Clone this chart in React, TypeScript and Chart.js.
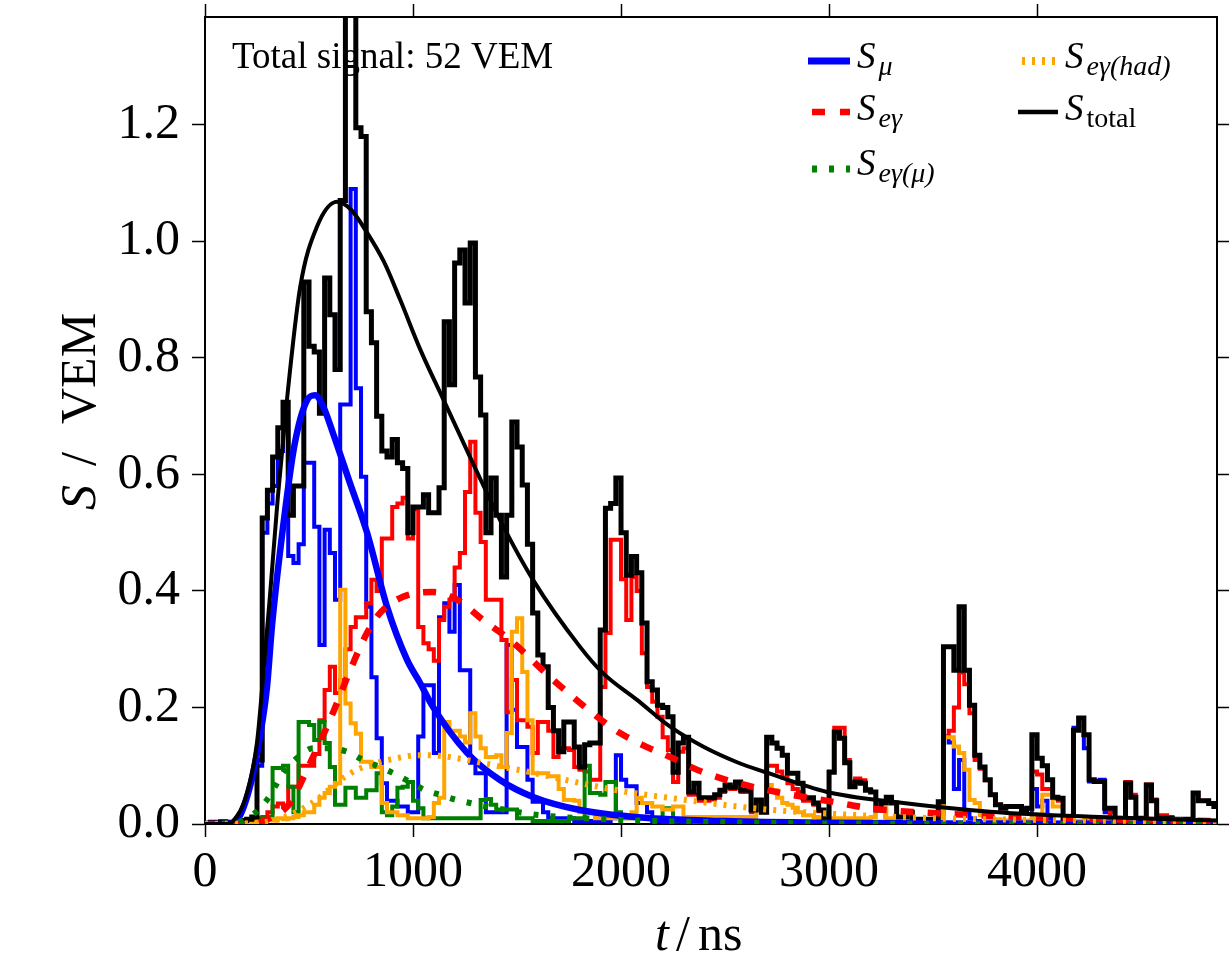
import React, { useEffect, useRef } from "react";
import { Chart, registerables } from "chart.js";

Chart.register(...registerables);

const W = 1229;
const H = 962;

// ---- axes ----
const BIN_WIDTH = 25; // ns per histogram bin
const T_MAX = 4865;
const S_MAX = 1.385;
const X_TICKS = [0, 1000, 2000, 3000, 4000];
const Y_TICKS = [0, 0.2, 0.4, 0.6, 0.8, 1.0, 1.2];
const ANNOTATION = "Total signal: 52 VEM";

// ---- histograms (one value per 25 ns bin, starting at t = 0) ----
const totalHist = [
  0, 0.003, 0.002, 0.004, 0.002, 0.003, 0.005, 0.006, 0.008, 0.012,
  0.11, 0.525, 0.573, 0.63, 0.68, 0.724, 0.53, 0.58, 0.58, 0.93,
  0.82, 0.81, 0.705, 0.937, 0.874, 0.78, 1.07, 1.7, 1.6, 1.195,
  1.18, 0.879, 0.826, 0.7, 0.64, 0.63, 0.66, 0.62, 0.61, 0.5,
  0.544, 0.544, 0.565, 0.534, 0.534, 0.577, 0.862, 0.754, 0.963, 0.985,
  0.894, 0.997, 0.767, 0.702, 0.5, 0.594, 0.53, 0.424, 0.53, 0.69,
  0.647, 0.582, 0.48, 0.362, 0.29, 0.27, 0.2, 0.16, 0.124, 0.175,
  0.175, 0.132, 0.098, 0.136, 0.139, 0.139, 0.333, 0.542, 0.55, 0.594,
  0.5, 0.427, 0.459, 0.431, 0.345, 0.244, 0.23, 0.204, 0.2, 0.184,
  0.089, 0.139, 0.149, 0.055, 0.07, 0.045, 0.045, 0.045, 0.05, 0.058,
  0.067, 0.063, 0.072, 0.058, 0.058, 0.024, 0.041, 0.02, 0.149, 0.139,
  0.13, 0.118, 0.087, 0.087, 0.07, 0.045, 0.045, 0.036, 0.024, 0.007,
  0.089, 0.158, 0.147, 0.105, 0.064, 0.072, 0.07, 0.058, 0.055, 0.024,
  0.036, 0.046, 0.036, 0.012, 0.012, 0.02, 0.008, 0.008, 0.006, 0.008,
  0.005, 0.038, 0.304, 0.304, 0.264, 0.373, 0.264, 0.204, 0.118, 0.098,
  0.076, 0.05, 0.033, 0.027, 0.03, 0.03, 0.03, 0.025, 0.027, 0.153,
  0.113, 0.1, 0.076, 0.046, 0.044, 0.003, 0.003, 0.161, 0.182, 0.153,
  0.076, 0.073, 0.073, 0.027, 0.027, 0.005, 0.005, 0.07, 0.046, 0.01,
  0.008, 0.067, 0.04, 0.008, 0.01, 0.01, 0.008, 0.003, 0.008, 0.008,
  0.053, 0.04, 0.04, 0.035, 0.03,
];

const emHist = [
  0, 0.003, 0.002, 0.004, 0.002, 0.003, 0.004, 0.005, 0.006, 0.008,
  0.01, 0.012, 0.02, 0.03, 0.035, 0.03, 0.064, 0.064, 0.1, 0.1,
  0.1, 0.12, 0.178, 0.23, 0.27, 0.225, 0.247, 0.3, 0.338, 0.355,
  0.355, 0.379, 0.419, 0.4, 0.49, 0.49, 0.544, 0.55, 0.56, 0.49,
  0.54, 0.338, 0.31, 0.3, 0.28, 0.35, 0.373, 0.385, 0.44, 0.465,
  0.57, 0.656, 0.534, 0.484, 0.385, 0.385, 0.385, 0.316, 0.192, 0.247,
  0.178, 0.178, 0.167, 0.122, 0.175, 0.175, 0.16, 0.115, 0.13, 0.13,
  0.127, 0.098, 0.093, 0.09, 0.076, 0.076, 0.235, 0.328, 0.488, 0.488,
  0.42, 0.35, 0.424, 0.4, 0.293, 0.235, 0.21, 0.184, 0.149, 0.127,
  0.072, 0.124, 0.13, 0.05, 0.05, 0.04, 0.04, 0.042, 0.045, 0.055,
  0.063, 0.06, 0.07, 0.055, 0.055, 0.02, 0.038, 0.02, 0.1, 0.1,
  0.09, 0.08, 0.07, 0.06, 0.055, 0.04, 0.04, 0.033, 0.022, 0.006,
  0.09, 0.165, 0.165, 0.11, 0.07, 0.078, 0.075, 0.06, 0.055, 0.024,
  0.036, 0.045, 0.036, 0.012, 0.012, 0.02, 0.008, 0.008, 0.006, 0.008,
  0.005, 0.035, 0.15, 0.16, 0.2, 0.26, 0.24, 0.19, 0.11, 0.095,
  0.075, 0.05, 0.033, 0.027, 0.03, 0.03, 0.03, 0.025, 0.027, 0.09,
  0.085, 0.06, 0.06, 0.045, 0.04, 0.003, 0.003, 0.005, 0.005, 0.005,
  0.005, 0.005, 0.01, 0.01, 0.02, 0.005, 0.005, 0.072, 0.05, 0.01,
  0.008, 0.068, 0.042, 0.015, 0.015, 0.012, 0.008, 0.003, 0.008, 0.008,
  0.053, 0.04, 0.04, 0.035, 0.03,
];

const muHist = [
  0, 0, 0, 0, 0, 0, 0, 0, 0.002, 0.004,
  0.1, 0.5, 0.55, 0.58, 0.64, 0.69, 0.46, 0.448, 0.48, 0.62,
  0.62, 0.51, 0.307, 0.505, 0.465, 0.385, 0.72, 0.72, 1.09, 0.748,
  0.596, 0.373, 0.252, 0.147, 0.07, 0.04, 0.04, 0.03, 0.03, 0.02,
  0.02, 0.15, 0.238, 0.238, 0.122, 0.355, 0.379, 0.33, 0.41, 0.264,
  0.264, 0.105, 0.087, 0.087, 0.02, 0.02, 0.02, 0.02, 0.307, 0.196,
  0.132, 0.132, 0.076, 0.038, 0.038, 0.02, 0.01, 0.01, 0.01, 0.01,
  0.01, 0.005, 0.005, 0.005, 0.005, 0.005, 0.005, 0.005, 0.01, 0.118,
  0.076, 0.065, 0.065, 0.036, 0.036, 0.02, 0.005, 0.005, 0, 0,
  0, 0, 0, 0, 0, 0, 0, 0, 0, 0,
  0, 0, 0, 0, 0, 0, 0, 0, 0, 0,
  0, 0, 0, 0, 0, 0, 0, 0, 0, 0,
  0, 0, 0, 0, 0, 0, 0, 0, 0, 0,
  0, 0, 0, 0, 0, 0, 0, 0, 0, 0,
  0, 0, 0.15, 0.14, 0.06, 0.11, 0.02, 0.01, 0.005, 0,
  0, 0, 0, 0, 0, 0, 0, 0, 0, 0.06,
  0.03, 0.04, 0.01, 0, 0, 0, 0, 0.165, 0.182, 0.13,
  0.073, 0.073, 0.076, 0.02, 0.005, 0, 0, 0, 0, 0,
  0, 0, 0, 0, 0, 0, 0, 0, 0, 0,
  0, 0, 0, 0, 0,
];

const emMuHist = [
  0, 0, 0, 0, 0, 0.002, 0, 0.003, 0.004, 0.005,
  0.01, 0.01, 0.012, 0.096, 0.096, 0.1, 0.064, 0.02, 0.175, 0.175,
  0.17, 0.144, 0.175, 0.139, 0.098, 0.033, 0.033, 0.062, 0.062, 0.045,
  0.045, 0.058, 0.058, 0.087, 0.02, 0.015, 0.03, 0.062, 0.064, 0.072,
  0.04, 0.027, 0.01, 0.01, 0.01, 0.01, 0.01, 0.01, 0.01, 0.01,
  0.01, 0.01, 0.01, 0.041, 0.043, 0.033, 0.025, 0.025, 0.025, 0.025,
  0.01, 0.01, 0.01, 0.005, 0.005, 0.005, 0.005, 0.005, 0.005, 0.005,
  0.01, 0.01, 0.01, 0.1, 0.053, 0.053, 0.05, 0.072, 0.072, 0.02,
  0.01, 0.01, 0.01, 0.01, 0.01, 0.01, 0.01, 0.01, 0.027, 0.027,
  0.005, 0.005, 0.005, 0.005, 0.003, 0.003, 0.003, 0.003, 0.003, 0.003,
  0.002, 0.002, 0.002, 0.002, 0.002, 0.002, 0.002, 0.002, 0.002, 0.002,
  0.002, 0.002, 0.002, 0.002, 0.002, 0.002, 0.002, 0.002, 0.002, 0.002,
  0, 0, 0, 0, 0, 0, 0, 0, 0, 0,
  0, 0, 0, 0, 0, 0, 0, 0, 0, 0,
  0, 0, 0, 0, 0, 0, 0, 0, 0, 0,
  0, 0, 0, 0, 0, 0, 0, 0, 0, 0,
  0, 0, 0, 0, 0, 0, 0, 0, 0, 0,
  0, 0, 0, 0, 0, 0, 0, 0, 0, 0,
  0, 0, 0, 0, 0, 0, 0, 0, 0, 0,
  0, 0, 0, 0, 0,
];

const emHadHist = [
  0, 0, 0, 0.002, 0, 0, 0.003, 0.002, 0.002, 0.003,
  0.004, 0.005, 0.008, 0.006, 0.01, 0.008, 0.01, 0.012, 0.015, 0.02,
  0.02, 0.033, 0.045, 0.053, 0.064, 0.07, 0.402, 0.207, 0.173, 0.155,
  0.107, 0.107, 0.098, 0.098, 0.036, 0.02, 0.02, 0.015, 0.015, 0.01,
  0.01, 0.01, 0.01, 0.012, 0.036, 0.045, 0.175, 0.16, 0.16, 0.15,
  0.14, 0.19, 0.15, 0.13, 0.115, 0.115, 0.118, 0.098, 0.156, 0.33,
  0.353, 0.261, 0.178, 0.087, 0.087, 0.087, 0.082, 0.082, 0.06, 0.041,
  0.041, 0.04, 0.02, 0.02, 0.02, 0.01, 0.01, 0.01, 0.01, 0.01,
  0.01, 0.01, 0.02, 0.045, 0.036, 0.036, 0.03, 0.03, 0.025, 0.025,
  0.03, 0.03, 0.012, 0.012, 0.012, 0.012, 0.012, 0.012, 0.012, 0.012,
  0.012, 0.012, 0.012, 0.012, 0.012, 0.012, 0.041, 0.036, 0.067, 0.058,
  0.045, 0.036, 0.033, 0.028, 0.02, 0.015, 0.015, 0.012, 0.01, 0.005,
  0.01, 0.01, 0.01, 0.01, 0.01, 0.01, 0.01, 0.01, 0.012, 0.027,
  0.027, 0.01, 0.01, 0.008, 0.008, 0.008, 0.006, 0.006, 0.006, 0.006,
  0.005, 0.01, 0.149, 0.149, 0.133, 0.122, 0.093, 0.041, 0.036, 0.015,
  0.01, 0.008, 0.008, 0.006, 0.006, 0.006, 0.006, 0.006, 0.006, 0.01,
  0.01, 0.05, 0.05, 0.03, 0.03, 0.003, 0.003, 0.005, 0.005, 0.012,
  0.005, 0.003, 0.003, 0.003, 0.003, 0.003, 0.003, 0.003, 0.003, 0.003,
  0.003, 0.003, 0.003, 0.003, 0.003, 0.003, 0.003, 0.003, 0.003, 0.003,
  0.003, 0.003, 0.003, 0.003, 0.003,
];

const muFitT = [0, 100, 150, 216, 264, 298, 322, 375, 430, 490, 529, 570, 615, 697, 779, 875, 971, 1034, 1096, 1260, 1418, 1577, 1803, 2100, 2500, 3000, 3500, 4865];
const muFitS = [0, 0, 0.005, 0.064, 0.15, 0.235, 0.34, 0.509, 0.65, 0.727, 0.736, 0.715, 0.671, 0.585, 0.5, 0.373, 0.282, 0.242, 0.201, 0.122, 0.0755, 0.0464, 0.024, 0.011, 0.005, 0.002, 0.001, 0];

const emFitT = [0, 200, 300, 409, 490, 601, 712, 779, 841, 952, 1096, 1212, 1337, 1466, 1659, 1769, 1885, 1995, 2125, 2236, 2394, 2654, 3053, 3197, 3600, 4000, 4500, 4865];
const emFitS = [0, 0, 0.008, 0.036, 0.093, 0.179, 0.276, 0.328, 0.362, 0.39, 0.398, 0.385, 0.35, 0.316, 0.252, 0.218, 0.184, 0.156, 0.132, 0.115, 0.089, 0.062, 0.036, 0.027, 0.017, 0.011, 0.007, 0.005];

const emMuFitT = [0, 150, 200, 250, 303, 380, 442, 519, 600, 683, 760, 889, 986, 1058, 1130, 1212, 1288, 1529, 1611, 2000, 2500, 3000, 4865];
const emMuFitS = [0, 0.002, 0.01, 0.022, 0.044, 0.09, 0.113, 0.13, 0.13, 0.124, 0.11, 0.09, 0.072, 0.058, 0.05, 0.041, 0.035, 0.019, 0.015, 0.007, 0.003, 0.001, 0];

const emHadFitT = [0, 250, 350, 457, 553, 649, 731, 827, 923, 1019, 1130, 1226, 1385, 1562, 1740, 2029, 2317, 2587, 2731, 3149, 3500, 4000, 4865];
const emHadFitS = [0, 0.002, 0.008, 0.024, 0.046, 0.075, 0.093, 0.105, 0.113, 0.118, 0.117, 0.112, 0.101, 0.089, 0.075, 0.055, 0.041, 0.029, 0.024, 0.015, 0.01, 0.007, 0.004];

const totFitT = [0, 100, 135, 202, 250, 288, 312, 350, 394, 457, 538, 635, 700, 779, 860, 938, 1034, 1144, 1300, 1418, 1577, 1803, 1913, 2077, 2236, 2394, 2558, 2702, 2990, 3308, 3774, 4300, 4865];
const totFitS = [0, 0, 0.005, 0.053, 0.14, 0.29, 0.39, 0.56, 0.728, 0.92, 1.025, 1.068, 1.055, 1.015, 0.965, 0.9, 0.815, 0.73, 0.61, 0.522, 0.419, 0.304, 0.259, 0.213, 0.167, 0.133, 0.106, 0.088, 0.055, 0.038, 0.021, 0.012, 0.006];

// ---- colours / styles ----
const BLUE = "#0000ff";
const RED = "#ff0000";
const GREEN = "#008000";
const ORANGE = "#ffa500";
const BLACK = "#000000";
const SERIF = '"Liberation Serif", "Times New Roman", serif';

const LEGEND = [
  { sub: "μ", italicSub: true, color: BLUE, dash: [] as number[], width: 7, col: 0, row: 0 },
  { sub: "eγ", italicSub: true, color: RED, dash: [13, 15], width: 6.5, col: 0, row: 1 },
  { sub: "eγ(μ)", italicSub: true, color: GREEN, dash: [5, 12], width: 7, col: 0, row: 2 },
  { sub: "eγ(had)", italicSub: true, color: ORANGE, dash: [3, 7], width: 8, col: 1, row: 0 },
  { sub: "total", italicSub: false, color: BLACK, dash: [] as number[], width: 4.5, col: 1, row: 1 },
];

function stepPoints(vals: number[]) {
  const pts = vals.map((v, i) => ({ x: i * BIN_WIDTH, y: v }));
  pts.push({ x: vals.length * BIN_WIDTH, y: vals[vals.length - 1] });
  return pts;
}

function curvePoints(ts: number[], vs: number[]) {
  return ts.map((t, i) => ({ x: t, y: vs[i] }));
}

function histDataset(vals: number[], color: string, width: number, order: number) {
  return {
    data: stepPoints(vals),
    borderColor: color,
    borderWidth: width,
    stepped: "before" as const,
    pointRadius: 0,
    fill: false,
    borderJoinStyle: "miter" as const,
    borderCapStyle: "butt" as const,
    order,
  };
}

function curveDataset(ts: number[], vs: number[], color: string, width: number, dash: number[], order: number) {
  return {
    data: curvePoints(ts, vs),
    borderColor: color,
    borderWidth: width,
    borderDash: dash,
    borderCapStyle: "butt" as const,
    cubicInterpolationMode: "monotone" as const,
    tension: 0.4,
    pointRadius: 0,
    fill: false,
    order,
  };
}

function fixedSize(prop: "width" | "height", size: number) {
  return (s: any) => {
    s[prop] = size;
    s.paddingTop = 0;
    s.paddingBottom = 0;
    s.paddingLeft = 0;
    s.paddingRight = 0;
  };
}

const overlayPlugin = {
  id: "overlay",
  beforeDatasetsDraw(chart: any) {
    const { ctx, chartArea } = chart;
    ctx.save();
    ctx.fillStyle = BLACK;
    ctx.textAlign = "left";
    ctx.textBaseline = "alphabetic";
    ctx.font = `37px ${SERIF}`;
    ctx.fillText(ANNOTATION, chartArea.left + 27, chartArea.top + 51);
    ctx.restore();
  },
  afterDraw(chart: any) {
    const { ctx, chartArea } = chart;
    ctx.save();
    ctx.fillStyle = BLACK;
    ctx.textAlign = "left";
    ctx.textBaseline = "alphabetic";

    // legend
    const colLine = [chartArea.left + 603, chartArea.left + 813];
    const colLineEnd = [chartArea.left + 645, chartArea.left + 853];
    const colText = [chartArea.left + 652, chartArea.left + 860];
    const rowLineY = [chartArea.top + 44, chartArea.top + 95, chartArea.top + 152];
    const rowTextY = [chartArea.top + 51, chartArea.top + 103, chartArea.top + 158];
    LEGEND.forEach((item) => {
      const x0 = colLine[item.col] + (item.dash.length ? 4 : 0);
      const x1 = colLineEnd[item.col];
      const y = rowLineY[item.row];
      ctx.save();
      ctx.strokeStyle = item.color;
      ctx.lineWidth = item.width;
      ctx.lineCap = "butt";
      ctx.setLineDash(item.dash);
      ctx.beginPath();
      ctx.moveTo(x0, y);
      ctx.lineTo(x1, y);
      ctx.stroke();
      ctx.restore();
      const tx = colText[item.col];
      const ty = rowTextY[item.row];
      ctx.font = `italic 37px ${SERIF}`;
      ctx.fillText("S", tx, ty);
      const w = ctx.measureText("S").width;
      ctx.font = `${item.italicSub ? "italic " : ""}28px ${SERIF}`;
      ctx.fillText(item.sub, tx + w + 3, ty + 7);
    });

    // x axis title: t / ns
    const xb = 950;
    ctx.font = `italic 50px ${SERIF}`;
    ctx.fillText("t", 655, xb);
    ctx.font = `50px ${SERIF}`;
    ctx.fillText("/", 676, xb);
    ctx.fillText("ns", 698, xb);

    // y axis title: S / VEM (rotated)
    ctx.save();
    ctx.translate(95, 510);
    ctx.rotate(-Math.PI / 2);
    ctx.font = `italic 50px ${SERIF}`;
    ctx.fillText("S", 0, 0);
    ctx.font = `50px ${SERIF}`;
    ctx.fillText("/", 44, 0);
    ctx.fillText("VEM", 86, 0);
    ctx.restore();

    ctx.restore();
  },
};

const gridOpts = {
  drawOnChartArea: false,
  drawTicks: true,
  tickLength: 13,
  tickColor: BLACK,
  tickWidth: 1.5,
};
const borderOpts = { display: true, color: BLACK, width: 2 };
const tickFont = { family: SERIF, size: 50 };

export default function App() {
  const ref = useRef<HTMLCanvasElement | null>(null);

  useEffect(() => {
    const canvas = ref.current;
    if (!canvas) return;
    const chart = new Chart(canvas, {
      type: "line",
      data: {
        datasets: [
          // model curves (on top)
          curveDataset(totFitT, totFitS, BLACK, 4, [], 0),
          curveDataset(emHadFitT, emHadFitS, ORANGE, 6, [3, 7], 1),
          curveDataset(emMuFitT, emMuFitS, GREEN, 6, [5, 12], 2),
          curveDataset(emFitT, emFitS, RED, 6.5, [13, 14], 3),
          curveDataset(muFitT, muFitS, BLUE, 6.5, [], 4),
          // histograms
          histDataset(totalHist, BLACK, 5, 5),
          histDataset(emHadHist, ORANGE, 4, 6),
          histDataset(emMuHist, GREEN, 4, 7),
          histDataset(emHist, RED, 4, 8),
          histDataset(muHist, BLUE, 4, 9),
        ] as any,
      },
      options: {
        animation: false,
        responsive: false,
        devicePixelRatio: 1,
        events: [],
        layout: { padding: 0 },
        plugins: { legend: { display: false }, tooltip: { enabled: false } },
        scales: {
          x: {
            type: "linear",
            position: "bottom",
            min: 0,
            max: T_MAX,
            afterBuildTicks: (s: any) => {
              s.ticks = X_TICKS.map((value) => ({ value }));
            },
            afterFit: fixedSize("height", 138),
            ticks: {
              font: tickFont,
              color: BLACK,
              padding: 6,
              maxRotation: 0,
              autoSkip: false,
              callback: (v: any) => String(v),
            },
            grid: gridOpts,
            border: borderOpts,
          },
          x2: {
            type: "linear",
            position: "top",
            min: 0,
            max: T_MAX,
            afterBuildTicks: (s: any) => {
              s.ticks = X_TICKS.map((value) => ({ value }));
            },
            afterFit: fixedSize("height", 17),
            ticks: { display: false },
            grid: gridOpts,
            border: borderOpts,
          },
          y: {
            type: "linear",
            position: "left",
            min: 0,
            max: S_MAX,
            afterBuildTicks: (s: any) => {
              s.ticks = Y_TICKS.map((value) => ({ value }));
            },
            afterFit: fixedSize("width", 205),
            ticks: {
              font: tickFont,
              color: BLACK,
              padding: 12,
              autoSkip: false,
              callback: (v: any) => Number(v).toFixed(1),
            },
            grid: gridOpts,
            border: borderOpts,
          },
          y2: {
            type: "linear",
            position: "right",
            min: 0,
            max: S_MAX,
            afterBuildTicks: (s: any) => {
              s.ticks = Y_TICKS.map((value) => ({ value }));
            },
            afterFit: fixedSize("width", 12),
            ticks: { display: false },
            grid: gridOpts,
            border: borderOpts,
          },
        },
      } as any,
      plugins: [overlayPlugin],
    });
    return () => chart.destroy();
  }, []);

  return (
    <div style={{ position: "absolute", left: 0, top: 0, width: W, height: H, background: "#fff" }}>
      <canvas ref={ref} width={W} height={H} style={{ display: "block", width: W, height: H }} />
    </div>
  );
}
